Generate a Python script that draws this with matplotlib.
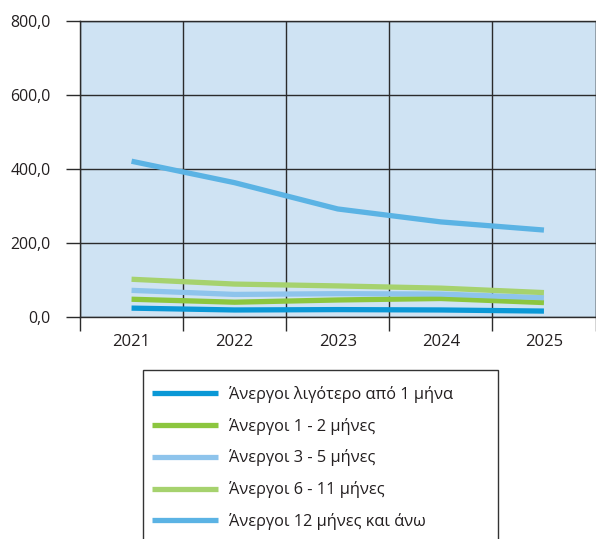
import matplotlib

matplotlib.use("Agg")
import matplotlib.pyplot as plt  # noqa: E402
from matplotlib.patches import Rectangle  # noqa: E402

plt.rcParams["font.family"] = ["Open Sans", "DejaVu Sans"]

YEARS = ["2021", "2022", "2023", "2024", "2025"]

LESS_1 = [24, 19, 20, 19, 16]
M_1_2 = [48, 40, 46, 50, 39]
M_3_5 = [72, 61, 63, 62, 52]
M_6_11 = [102, 89, 84, 78, 66]
M_12_PLUS = [421, 363, 292, 257, 235]

LABELS = [
    "Άνεργοι λιγότερο από 1 μήνα",
    "Άνεργοι 1 - 2 μήνες",
    "Άνεργοι 3 - 5 μήνες",
    "Άνεργοι 6 - 11 μήνες",
    "Άνεργοι 12 μήνες και άνω",
]
COLORS = ["#0a98d6", "#8cc63f", "#8ec4ec", "#a6d26e", "#5bb3e4"]
SERIES = [LESS_1, M_1_2, M_3_5, M_6_11, M_12_PLUS]

TEXT = "#231f20"
GRID = "#2b2b2b"

W, H = 596, 539
fig = plt.figure(figsize=(W / 100, H / 100), dpi=100)
ax = fig.add_axes([80 / W, 1 - 317 / H, 515.5 / W, 296 / H])
ax.set_facecolor("#cfe3f3")

x = range(len(YEARS))
handles = []
for vals, color in zip(SERIES, COLORS):
    (ln,) = ax.plot(x, vals, color=color, lw=3.8, solid_capstyle="butt", zorder=3)
    handles.append(ln)

ax.set_xlim(-0.5, len(YEARS) - 0.5)
ax.set_ylim(0, 800)
ax.set_yticks([0, 200, 400, 600, 800])
ax.set_yticklabels(["0,0", "200,0", "400,0", "600,0", "800,0"])
ax.set_xticks(list(x))
ax.set_xticklabels(YEARS)
ax.set_xticks([i - 0.5 for i in range(len(YEARS) + 1)], minor=True)

ax.tick_params(axis="x", which="major", length=0, pad=12, labelsize=12, labelcolor=TEXT)
ax.tick_params(axis="x", which="minor", length=10, width=1, color=GRID)
ax.tick_params(axis="y", length=10, width=1, color=GRID, pad=11, labelsize=11.4,
               labelcolor=TEXT)

ax.grid(axis="y", which="major", color=GRID, lw=1, zorder=1)
ax.grid(axis="x", which="minor", color=GRID, lw=1, zorder=1)
ax.grid(axis="x", which="major", visible=False)
ax.set_axisbelow(True)
for sp in ax.spines.values():
    sp.set_color(GRID)
    sp.set_linewidth(1)

# legend box, its bottom runs off the figure like the original
fig.patches.append(Rectangle((143 / W, -0.05), (498 - 143) / W, 0.05 + 1 - 370 / H,
                             transform=fig.transFigure, fill=False,
                             edgecolor="#333333", lw=1))
fig.legend(
    handles, LABELS,
    loc="upper left", bbox_to_anchor=(152 / W, 1 - 386 / H),
    frameon=False, fontsize=11.8, handlelength=4.0, handletextpad=0.72,
    borderpad=0, borderaxespad=0, labelspacing=0.9, labelcolor=TEXT,
)

fig.savefig("out.png", dpi=100)
